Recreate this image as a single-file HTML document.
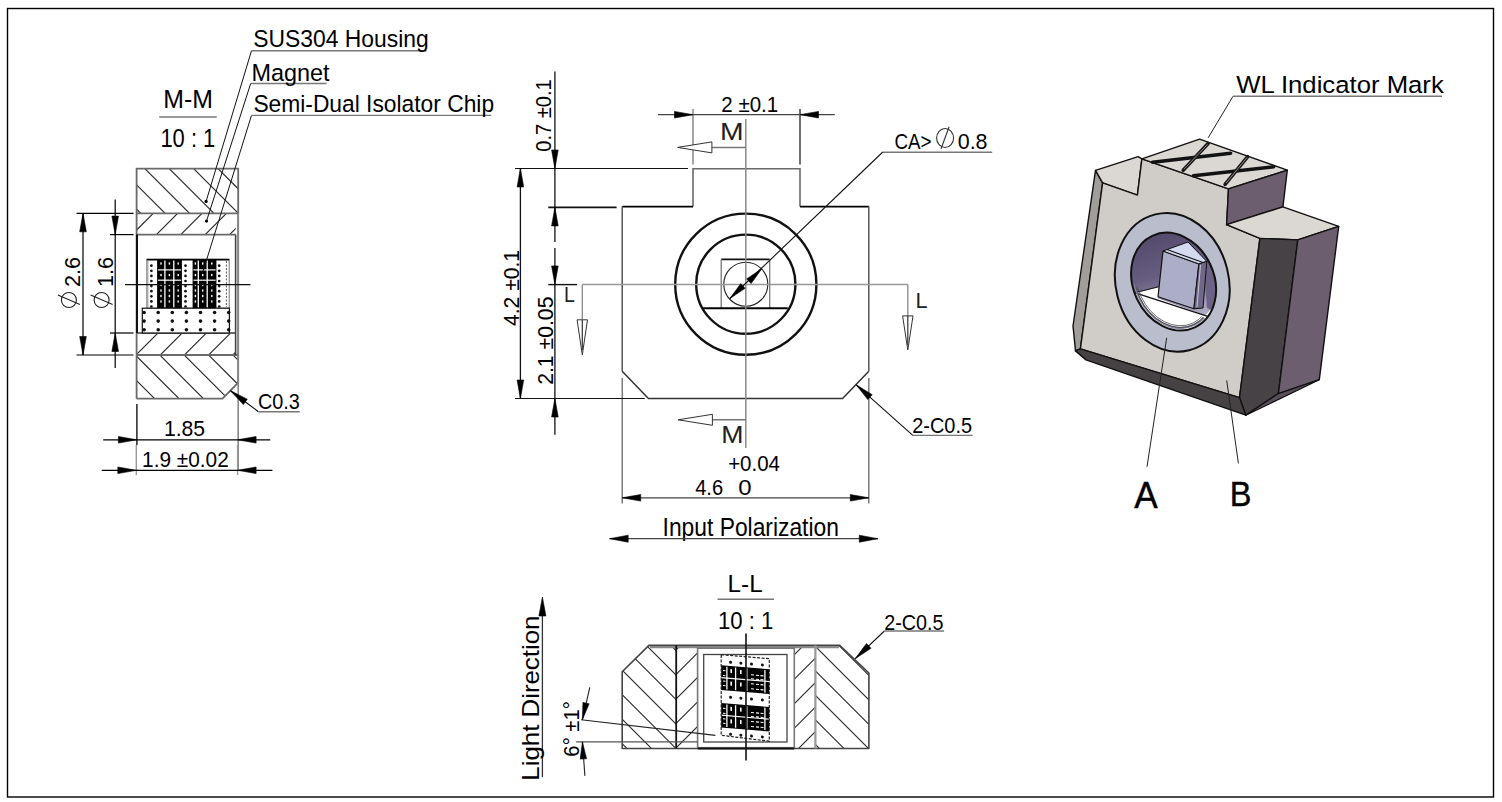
<!DOCTYPE html>
<html><head><meta charset="utf-8"><title>Isolator drawing</title>
<style>html,body{margin:0;padding:0;background:#fff;width:1502px;height:802px;overflow:hidden}svg{display:block}text{font-family:"Liberation Sans",sans-serif}</style>
</head><body>
<svg width="1502" height="802" viewBox="0 0 1502 802" font-family="Liberation Sans, sans-serif"><defs><clipPath id="mmH1"><rect x="136.6" y="168.7" width="101.6" height="44.60000000000002"/></clipPath><clipPath id="mmM1"><rect x="136.6" y="213.3" width="99.1" height="21.299999999999983"/></clipPath><clipPath id="mmM2"><rect x="136.6" y="333.0" width="99.1" height="22.0"/></clipPath><clipPath id="mmH2"><polygon points="136.6,355.0 238.2,355.0 238.2,382.7 222.5,398.7 136.6,398.7"/></clipPath><clipPath id="bore"><ellipse cx="1173.6" cy="281.6" rx="40.5" ry="50.5" transform="rotate(-25 1173.6 281.6)"/></clipPath><linearGradient id="wall" x1="0" y1="0" x2="0.3" y2="1"><stop offset="0" stop-color="#4b4163"/><stop offset="0.5" stop-color="#675d80"/><stop offset="0.8" stop-color="#9d97b5"/><stop offset="1" stop-color="#c0bcd2"/></linearGradient><clipPath id="lip"><polygon points="1120,270 1140,290 1205,318 1215,340 1120,340"/></clipPath><clipPath id="llH1"><polygon points="648.9,645.4 676.2,645.4 676.2,748.5 622.2,748.5 622.2,671.8"/></clipPath><clipPath id="llM1"><rect x="676.2" y="645.4" width="21.4" height="103.10000000000002"/></clipPath><clipPath id="llM2"><rect x="794.3" y="645.4" width="21.1" height="103.10000000000002"/></clipPath><clipPath id="llH2"><polygon points="815.4,645.4 839.7,645.4 868.9,673.0 868.9,748.5 815.4,748.5"/></clipPath><clipPath id="llchip"><polygon points="721.2,654.7 769.3,658.7 769.3,741.2 721.2,735.3"/></clipPath></defs><rect x="0" y="0" width="1502" height="802" fill="#fff"/>
<rect x="7.5" y="8.5" width="1486" height="788.5" fill="none" stroke="#000" stroke-width="1.4"/>
<g clip-path="url(#mmH1)">
<line x1="-1000.0" y1="-927.4" x2="2000.0" y2="2072.6" stroke="#222" stroke-width="1.1" />
<line x1="-1000.0" y1="-951.8" x2="2000.0" y2="2048.2" stroke="#222" stroke-width="1.1" />
<line x1="-1000.0" y1="-976.2" x2="2000.0" y2="2023.8" stroke="#222" stroke-width="1.1" />
<line x1="-1000.0" y1="-1000.6" x2="2000.0" y2="1999.4" stroke="#222" stroke-width="1.1" />
<line x1="-1000.0" y1="-1025.0" x2="2000.0" y2="1975.0" stroke="#222" stroke-width="1.1" />
<line x1="-1000.0" y1="-1049.4" x2="2000.0" y2="1950.6" stroke="#222" stroke-width="1.1" />
</g>
<g clip-path="url(#mmM1)">
<line x1="-1000.0" y1="1366.6" x2="2000.0" y2="-1633.4" stroke="#222" stroke-width="1.1" />
<line x1="-1000.0" y1="1391.0" x2="2000.0" y2="-1609.0" stroke="#222" stroke-width="1.1" />
<line x1="-1000.0" y1="1415.4" x2="2000.0" y2="-1584.6" stroke="#222" stroke-width="1.1" />
<line x1="-1000.0" y1="1439.8" x2="2000.0" y2="-1560.2" stroke="#222" stroke-width="1.1" />
<line x1="-1000.0" y1="1464.2" x2="2000.0" y2="-1535.8" stroke="#222" stroke-width="1.1" />
<line x1="-1000.0" y1="1488.6" x2="2000.0" y2="-1511.4" stroke="#222" stroke-width="1.1" />
</g>
<g clip-path="url(#mmM2)">
<line x1="-1000.0" y1="1491.0" x2="2000.0" y2="-1509.0" stroke="#222" stroke-width="1.1" />
<line x1="-1000.0" y1="1515.2" x2="2000.0" y2="-1484.8" stroke="#222" stroke-width="1.1" />
<line x1="-1000.0" y1="1539.4" x2="2000.0" y2="-1460.6" stroke="#222" stroke-width="1.1" />
<line x1="-1000.0" y1="1563.6" x2="2000.0" y2="-1436.4" stroke="#222" stroke-width="1.1" />
<line x1="-1000.0" y1="1587.8" x2="2000.0" y2="-1412.2" stroke="#222" stroke-width="1.1" />
</g>
<g clip-path="url(#mmH2)">
<line x1="-1000.0" y1="-756.0" x2="2000.0" y2="2244.0" stroke="#222" stroke-width="1.1" />
<line x1="-1000.0" y1="-780.4" x2="2000.0" y2="2219.6" stroke="#222" stroke-width="1.1" />
<line x1="-1000.0" y1="-804.8" x2="2000.0" y2="2195.2" stroke="#222" stroke-width="1.1" />
<line x1="-1000.0" y1="-829.2" x2="2000.0" y2="2170.8" stroke="#222" stroke-width="1.1" />
<line x1="-1000.0" y1="-853.6" x2="2000.0" y2="2146.4" stroke="#222" stroke-width="1.1" />
<line x1="-1000.0" y1="-878.0" x2="2000.0" y2="2122.0" stroke="#222" stroke-width="1.1" />
</g>
<polyline points="136.6,398.7 136.6,168.7 238.2,168.7 238.2,382.7 222.5,398.7 136.6,398.7" fill="none" stroke="#6a6a6a" stroke-width="1.8" />
<line x1="136.6" y1="213.3" x2="238.2" y2="213.3" stroke="#6a6a6a" stroke-width="1.8" />
<line x1="136.6" y1="234.6" x2="235.7" y2="234.6" stroke="#6a6a6a" stroke-width="1.8" />
<line x1="136.6" y1="333.0" x2="235.7" y2="333.0" stroke="#6a6a6a" stroke-width="1.8" />
<line x1="136.6" y1="355.0" x2="238.2" y2="355.0" stroke="#6a6a6a" stroke-width="1.8" />
<line x1="137.0" y1="234.6" x2="137.0" y2="333.0" stroke="#111" stroke-width="2.0" />
<line x1="235.6" y1="234.6" x2="235.6" y2="355.0" stroke="#444" stroke-width="1.6" />
<line x1="238.2" y1="213.3" x2="238.2" y2="470.0" stroke="#888" stroke-width="1.6" />
<rect x="146.8" y="259.4" width="82.4" height="48.8" fill="#fff" stroke="#777" stroke-width="1.0"/>
<line x1="146.8" y1="259.6" x2="229.2" y2="259.6" stroke="#000" stroke-width="1.8" />
<rect x="157.1" y="259.4" width="24.8" height="48.8" fill="#000"/>
<line x1="164.9" y1="260.5" x2="164.9" y2="307.5" stroke="#fff" stroke-width="1.3" />
<line x1="173.8" y1="260.5" x2="173.8" y2="307.5" stroke="#fff" stroke-width="1.3" />
<line x1="157.9" y1="269.9" x2="181.1" y2="269.9" stroke="#fff" stroke-width="1.2" />
<line x1="157.9" y1="280.2" x2="181.1" y2="280.2" stroke="#fff" stroke-width="1.2" />
<rect x="160.3" y="262.4" width="1.4" height="2.2" fill="#fff"/>
<rect x="160.3" y="273.9" width="1.4" height="2.2" fill="#fff"/>
<rect x="160.3" y="283.9" width="1.4" height="2.2" fill="#fff"/>
<rect x="160.3" y="289.4" width="1.4" height="2.2" fill="#fff"/>
<rect x="160.3" y="294.9" width="1.4" height="2.2" fill="#fff"/>
<rect x="160.3" y="300.4" width="1.4" height="2.2" fill="#fff"/>
<rect x="168.7" y="262.4" width="1.4" height="2.2" fill="#fff"/>
<rect x="168.7" y="273.9" width="1.4" height="2.2" fill="#fff"/>
<rect x="168.7" y="283.9" width="1.4" height="2.2" fill="#fff"/>
<rect x="168.7" y="289.4" width="1.4" height="2.2" fill="#fff"/>
<rect x="168.7" y="294.9" width="1.4" height="2.2" fill="#fff"/>
<rect x="168.7" y="300.4" width="1.4" height="2.2" fill="#fff"/>
<rect x="177.5" y="262.4" width="1.4" height="2.2" fill="#fff"/>
<rect x="177.5" y="273.9" width="1.4" height="2.2" fill="#fff"/>
<rect x="177.5" y="283.9" width="1.4" height="2.2" fill="#fff"/>
<rect x="177.5" y="289.4" width="1.4" height="2.2" fill="#fff"/>
<rect x="177.5" y="294.9" width="1.4" height="2.2" fill="#fff"/>
<rect x="177.5" y="300.4" width="1.4" height="2.2" fill="#fff"/>
<rect x="192.6" y="259.4" width="23.8" height="48.8" fill="#000"/>
<line x1="198.3" y1="260.5" x2="198.3" y2="307.5" stroke="#fff" stroke-width="1.3" />
<line x1="207.2" y1="260.5" x2="207.2" y2="307.5" stroke="#fff" stroke-width="1.3" />
<line x1="193.4" y1="269.9" x2="215.6" y2="269.9" stroke="#fff" stroke-width="1.2" />
<line x1="193.4" y1="280.2" x2="215.6" y2="280.2" stroke="#fff" stroke-width="1.2" />
<rect x="194.7" y="262.4" width="1.4" height="2.2" fill="#fff"/>
<rect x="194.7" y="273.9" width="1.4" height="2.2" fill="#fff"/>
<rect x="194.7" y="283.9" width="1.4" height="2.2" fill="#fff"/>
<rect x="194.7" y="289.4" width="1.4" height="2.2" fill="#fff"/>
<rect x="194.7" y="294.9" width="1.4" height="2.2" fill="#fff"/>
<rect x="194.7" y="300.4" width="1.4" height="2.2" fill="#fff"/>
<rect x="202.0" y="262.4" width="1.4" height="2.2" fill="#fff"/>
<rect x="202.0" y="273.9" width="1.4" height="2.2" fill="#fff"/>
<rect x="202.0" y="283.9" width="1.4" height="2.2" fill="#fff"/>
<rect x="202.0" y="289.4" width="1.4" height="2.2" fill="#fff"/>
<rect x="202.0" y="294.9" width="1.4" height="2.2" fill="#fff"/>
<rect x="202.0" y="300.4" width="1.4" height="2.2" fill="#fff"/>
<rect x="211.1" y="262.4" width="1.4" height="2.2" fill="#fff"/>
<rect x="211.1" y="273.9" width="1.4" height="2.2" fill="#fff"/>
<rect x="211.1" y="283.9" width="1.4" height="2.2" fill="#fff"/>
<rect x="211.1" y="289.4" width="1.4" height="2.2" fill="#fff"/>
<rect x="211.1" y="294.9" width="1.4" height="2.2" fill="#fff"/>
<rect x="211.1" y="300.4" width="1.4" height="2.2" fill="#fff"/>
<circle cx="151.4" cy="265.7" r="1.35" fill="#111"/>
<circle cx="151.4" cy="270.8" r="1.35" fill="#111"/>
<circle cx="151.4" cy="275.9" r="1.35" fill="#111"/>
<circle cx="151.4" cy="281.0" r="1.35" fill="#111"/>
<circle cx="151.4" cy="286.1" r="1.35" fill="#111"/>
<circle cx="151.4" cy="291.2" r="1.35" fill="#111"/>
<circle cx="151.4" cy="296.3" r="1.35" fill="#111"/>
<circle cx="151.4" cy="301.4" r="1.35" fill="#111"/>
<circle cx="151.4" cy="306.5" r="1.35" fill="#111"/>
<circle cx="185.5" cy="265.7" r="1.35" fill="#111"/>
<circle cx="185.5" cy="270.8" r="1.35" fill="#111"/>
<circle cx="185.5" cy="275.9" r="1.35" fill="#111"/>
<circle cx="185.5" cy="281.0" r="1.35" fill="#111"/>
<circle cx="185.5" cy="286.1" r="1.35" fill="#111"/>
<circle cx="185.5" cy="291.2" r="1.35" fill="#111"/>
<circle cx="185.5" cy="296.3" r="1.35" fill="#111"/>
<circle cx="185.5" cy="301.4" r="1.35" fill="#111"/>
<circle cx="185.5" cy="306.5" r="1.35" fill="#111"/>
<circle cx="219.2" cy="265.7" r="1.35" fill="#111"/>
<circle cx="219.2" cy="270.8" r="1.35" fill="#111"/>
<circle cx="219.2" cy="275.9" r="1.35" fill="#111"/>
<circle cx="219.2" cy="281.0" r="1.35" fill="#111"/>
<circle cx="219.2" cy="286.1" r="1.35" fill="#111"/>
<circle cx="219.2" cy="291.2" r="1.35" fill="#111"/>
<circle cx="219.2" cy="296.3" r="1.35" fill="#111"/>
<circle cx="219.2" cy="301.4" r="1.35" fill="#111"/>
<circle cx="219.2" cy="306.5" r="1.35" fill="#111"/>
<line x1="226.4" y1="261.0" x2="226.4" y2="307.0" stroke="#555" stroke-width="1.0" stroke-dasharray="2,1.5"/>
<line x1="147.6" y1="261.0" x2="147.6" y2="307.0" stroke="#aaa" stroke-width="1.6" />
<rect x="142.3" y="308.2" width="87.1" height="24.8" fill="#fff" stroke="#111" stroke-width="1.2"/>
<circle cx="144.1" cy="312.5" r="1.8" fill="#111"/>
<circle cx="158.2" cy="312.5" r="1.8" fill="#111"/>
<circle cx="172.3" cy="312.5" r="1.8" fill="#111"/>
<circle cx="186.4" cy="312.5" r="1.8" fill="#111"/>
<circle cx="200.5" cy="312.5" r="1.8" fill="#111"/>
<circle cx="214.6" cy="312.5" r="1.8" fill="#111"/>
<circle cx="228.7" cy="312.5" r="1.8" fill="#111"/>
<circle cx="144.1" cy="321.1" r="1.8" fill="#111"/>
<circle cx="158.2" cy="321.1" r="1.8" fill="#111"/>
<circle cx="172.3" cy="321.1" r="1.8" fill="#111"/>
<circle cx="186.4" cy="321.1" r="1.8" fill="#111"/>
<circle cx="200.5" cy="321.1" r="1.8" fill="#111"/>
<circle cx="214.6" cy="321.1" r="1.8" fill="#111"/>
<circle cx="228.7" cy="321.1" r="1.8" fill="#111"/>
<circle cx="144.1" cy="329.7" r="1.8" fill="#111"/>
<circle cx="158.2" cy="329.7" r="1.8" fill="#111"/>
<circle cx="172.3" cy="329.7" r="1.8" fill="#111"/>
<circle cx="186.4" cy="329.7" r="1.8" fill="#111"/>
<circle cx="200.5" cy="329.7" r="1.8" fill="#111"/>
<circle cx="214.6" cy="329.7" r="1.8" fill="#111"/>
<circle cx="228.7" cy="329.7" r="1.8" fill="#111"/>
<line x1="125.0" y1="284.7" x2="250.4" y2="284.7" stroke="#111" stroke-width="1.2" />
<line x1="251.5" y1="50.7" x2="206.1" y2="201.4" stroke="#111" stroke-width="1.0" />
<circle cx="206.1" cy="201.4" r="1.6" fill="#000"/>
<line x1="250.7" y1="83.5" x2="206.5" y2="221.1" stroke="#111" stroke-width="1.0" />
<circle cx="206.5" cy="221.1" r="1.6" fill="#000"/>
<line x1="251.5" y1="115.4" x2="202.5" y2="273.0" stroke="#111" stroke-width="1.0" />
<line x1="251.5" y1="50.7" x2="426.4" y2="50.7" stroke="#777" stroke-width="1.4" />
<line x1="250.7" y1="83.5" x2="326.5" y2="83.5" stroke="#777" stroke-width="1.4" />
<line x1="251.5" y1="115.4" x2="491.2" y2="115.4" stroke="#777" stroke-width="1.4" />
<text x="253.18" y="46.60" font-size="24.5" text-anchor="start" fill="#000" textLength="175.53" lengthAdjust="spacingAndGlyphs" >SUS304 Housing</text>
<text x="251.53" y="80.50" font-size="24.5" text-anchor="start" fill="#000" textLength="78.09" lengthAdjust="spacingAndGlyphs" >Magnet</text>
<text x="253.39" y="111.70" font-size="24.5" text-anchor="start" fill="#000" textLength="240.71" lengthAdjust="spacingAndGlyphs" >Semi-Dual Isolator Chip</text>
<text x="163.23" y="108.40" font-size="25" text-anchor="start" fill="#000" textLength="49.64" lengthAdjust="spacingAndGlyphs" >M-M</text>
<line x1="159.2" y1="117.0" x2="216.7" y2="117.0" stroke="#777" stroke-width="1.4" />
<text x="160.39" y="146.80" font-size="25" text-anchor="start" fill="#000" textLength="54.92" lengthAdjust="spacingAndGlyphs" >10 : 1</text>
<line x1="76.5" y1="213.3" x2="133.5" y2="213.3" stroke="#000" stroke-width="1.2" />
<line x1="76.5" y1="355.0" x2="133.5" y2="355.0" stroke="#000" stroke-width="1.2" />
<line x1="110.0" y1="234.6" x2="133.5" y2="234.6" stroke="#000" stroke-width="1.2" />
<line x1="110.0" y1="333.0" x2="133.5" y2="333.0" stroke="#000" stroke-width="1.2" />
<line x1="83.0" y1="213.3" x2="83.0" y2="355.0" stroke="#000" stroke-width="1.2" />
<polygon points="83.0,213.3 86.3,231.8 79.7,231.8" fill="#000" stroke="#000" stroke-width="0.6" stroke-linejoin="round" />
<polygon points="83.0,355.0 79.7,336.5 86.3,336.5" fill="#000" stroke="#000" stroke-width="0.6" stroke-linejoin="round" />
<line x1="115.2" y1="199.6" x2="115.2" y2="368.0" stroke="#000" stroke-width="1.2" />
<polygon points="115.2,234.6 111.9,216.1 118.5,216.1" fill="#000" stroke="#000" stroke-width="0.6" stroke-linejoin="round" />
<polygon points="115.2,333.0 118.5,351.5 111.9,351.5" fill="#000" stroke="#000" stroke-width="0.6" stroke-linejoin="round" />
<circle cx="68.9" cy="300" r="7.5" fill="none" stroke="#222" stroke-width="1.1"/>
<line x1="57.9" y1="295.0" x2="79.9" y2="304.5" stroke="#222" stroke-width="1.1" />
<circle cx="101.6" cy="300" r="7.5" fill="none" stroke="#222" stroke-width="1.1"/>
<line x1="90.6" y1="295.0" x2="112.6" y2="304.5" stroke="#222" stroke-width="1.1" />
<text x="79.90" y="287.08" font-size="22" text-anchor="start" fill="#000" textLength="30.15" lengthAdjust="spacingAndGlyphs" transform="rotate(-90 79.90 287.08)" >2.6</text>
<text x="113.00" y="287.11" font-size="22" text-anchor="start" fill="#000" textLength="30.19" lengthAdjust="spacingAndGlyphs" transform="rotate(-90 113.00 287.11)" >1.6</text>
<line x1="136.9" y1="404.0" x2="136.9" y2="445.0" stroke="#111" stroke-width="1.4" />
<line x1="136.3" y1="445.0" x2="136.3" y2="475.0" stroke="#999" stroke-width="1.4" />
<line x1="237.6" y1="445.0" x2="237.6" y2="475.0" stroke="#999" stroke-width="1.4" />
<line x1="103.2" y1="439.8" x2="270.2" y2="439.8" stroke="#000" stroke-width="1.2" />
<polygon points="136.9,439.8 118.4,443.1 118.4,436.5" fill="#000" stroke="#000" stroke-width="0.6" stroke-linejoin="round" />
<polygon points="237.6,439.8 256.1,436.5 256.1,443.1" fill="#000" stroke="#000" stroke-width="0.6" stroke-linejoin="round" />
<line x1="101.7" y1="470.3" x2="272.4" y2="470.3" stroke="#000" stroke-width="1.2" />
<polygon points="136.3,470.3 117.8,473.6 117.8,467.0" fill="#000" stroke="#000" stroke-width="0.6" stroke-linejoin="round" />
<polygon points="237.6,470.3 256.1,467.0 256.1,473.6" fill="#000" stroke="#000" stroke-width="0.6" stroke-linejoin="round" />
<text x="163.89" y="435.80" font-size="22" text-anchor="start" fill="#000" textLength="41.20" lengthAdjust="spacingAndGlyphs" >1.85</text>
<text x="142.05" y="467.40" font-size="22" text-anchor="start" fill="#000" textLength="86.68" lengthAdjust="spacingAndGlyphs" >1.9 ±0.02</text>
<line x1="230.5" y1="390.7" x2="258.4" y2="411.7" stroke="#000" stroke-width="1.1" />
<polygon points="230.5,390.7 247.3,399.2 243.3,404.5" fill="#000" stroke="#000" stroke-width="0.6" stroke-linejoin="round" />
<line x1="258.4" y1="411.7" x2="299.8" y2="411.7" stroke="#777" stroke-width="1.4" />
<text x="257.94" y="409.20" font-size="22" text-anchor="start" fill="#000" textLength="41.90" lengthAdjust="spacingAndGlyphs" >C0.3</text>
<polyline points="693.0,206.6 693.0,168.7 800.0,168.7 800.0,206.6" fill="none" stroke="#6a6a6a" stroke-width="1.6" />
<line x1="622.2" y1="206.6" x2="693.0" y2="206.6" stroke="#000" stroke-width="1.7" />
<line x1="800.0" y1="206.6" x2="868.8" y2="206.6" stroke="#000" stroke-width="1.7" />
<line x1="622.2" y1="206.6" x2="622.2" y2="371.2" stroke="#555" stroke-width="1.5" />
<line x1="868.8" y1="206.6" x2="868.8" y2="371.2" stroke="#555" stroke-width="1.5" />
<polyline points="622.2,371.2 648.4,398.4 842.6,398.4 868.8,371.2" fill="none" stroke="#333" stroke-width="1.5" />
<line x1="622.2" y1="378.0" x2="622.2" y2="503.6" stroke="#666" stroke-width="1.3" />
<line x1="868.8" y1="378.0" x2="868.8" y2="503.6" stroke="#666" stroke-width="1.3" />
<line x1="693.0" y1="109.0" x2="693.0" y2="164.4" stroke="#777" stroke-width="1.3" />
<line x1="800.0" y1="109.0" x2="800.0" y2="164.4" stroke="#222" stroke-width="1.3" />
<line x1="515.0" y1="168.5" x2="688.0" y2="168.5" stroke="#111" stroke-width="1.2" />
<line x1="548.3" y1="207.4" x2="616.6" y2="207.4" stroke="#111" stroke-width="1.6" />
<line x1="515.0" y1="398.5" x2="644.8" y2="398.5" stroke="#111" stroke-width="1.2" />
<line x1="548.3" y1="284.6" x2="577.1" y2="284.6" stroke="#111" stroke-width="1.4" />
<circle cx="745.8" cy="284.2" r="70.6" fill="none" stroke="#111" stroke-width="2.4"/>
<circle cx="745.8" cy="284.2" r="49.6" fill="none" stroke="#111" stroke-width="2.4"/>
<circle cx="745.8" cy="284.2" r="22" fill="none" stroke="#222" stroke-width="1.1"/>
<line x1="721.2" y1="259.4" x2="769.7" y2="259.4" stroke="#111" stroke-width="1.6" />
<line x1="721.2" y1="259.4" x2="721.2" y2="308.0" stroke="#777" stroke-width="1.3" />
<line x1="769.7" y1="259.4" x2="769.7" y2="308.0" stroke="#777" stroke-width="1.3" />
<line x1="702.9" y1="308.2" x2="787.7" y2="308.2" stroke="#000" stroke-width="2.0" />
<line x1="745.8" y1="119.0" x2="745.8" y2="448.0" stroke="#888" stroke-width="1.5" />
<line x1="582.3" y1="284.4" x2="907.8" y2="284.4" stroke="#999" stroke-width="1.5" />
<line x1="582.3" y1="284.4" x2="582.3" y2="326.0" stroke="#888" stroke-width="1.3" />
<line x1="907.8" y1="284.4" x2="907.8" y2="322.0" stroke="#888" stroke-width="1.3" />
<polygon points="582.3,354.8 577.1,319.8 587.5,319.8" fill="#fff" stroke="#333" stroke-width="1" stroke-linejoin="round" />
<line x1="582.3" y1="320.0" x2="582.3" y2="350.0" stroke="#333" stroke-width="1.2" />
<polygon points="907.8,349.9 902.6,315.9 913.0,315.9" fill="#fff" stroke="#333" stroke-width="1" stroke-linejoin="round" />
<line x1="907.8" y1="316.0" x2="907.8" y2="345.0" stroke="#333" stroke-width="1.2" />
<text x="564.01" y="302.00" font-size="22" text-anchor="start" fill="#222" textLength="10.82" lengthAdjust="spacingAndGlyphs" >L</text>
<text x="915.48" y="307.60" font-size="22" text-anchor="start" fill="#222" textLength="12.02" lengthAdjust="spacingAndGlyphs" >L</text>
<line x1="745.8" y1="147.4" x2="680.0" y2="147.4" stroke="#777" stroke-width="1.5" />
<polygon points="677.6,147.4 711.9,141.9 711.9,152.9" fill="#fff" stroke="#333" stroke-width="1" stroke-linejoin="round" />
<line x1="745.8" y1="419.8" x2="680.0" y2="419.8" stroke="#777" stroke-width="1.5" />
<polygon points="678.1,419.8 712.4,414.3 712.4,425.3" fill="#fff" stroke="#333" stroke-width="1" stroke-linejoin="round" />
<text x="720.07" y="139.50" font-size="24" text-anchor="start" fill="#222" textLength="23.59" lengthAdjust="spacingAndGlyphs" >M</text>
<text x="721.30" y="442.70" font-size="24" text-anchor="start" fill="#222" textLength="22.20" lengthAdjust="spacingAndGlyphs" >M</text>
<line x1="729.9" y1="298.5" x2="882.8" y2="152.0" stroke="#111" stroke-width="1.1" />
<polygon points="729.9,298.5 740.7,283.7 745.1,288.3" fill="#000" stroke="#000" stroke-width="0.6" stroke-linejoin="round" />
<polygon points="761.8,268.7 751.1,283.5 746.6,278.9" fill="#000" stroke="#000" stroke-width="0.6" stroke-linejoin="round" />
<line x1="882.8" y1="152.2" x2="992.2" y2="152.2" stroke="#777" stroke-width="1.4" />
<text x="894.39" y="149.40" font-size="22" text-anchor="start" fill="#000" textLength="37.07" lengthAdjust="spacingAndGlyphs" >CA&gt;</text>
<ellipse cx="945.1" cy="138" rx="8.5" ry="9.5" fill="none" stroke="#333" stroke-width="1.1"/>
<line x1="949.1" y1="126.8" x2="941.1" y2="148.8" stroke="#333" stroke-width="1.1" />
<text x="957.76" y="149.40" font-size="22" text-anchor="start" fill="#000" textLength="29.79" lengthAdjust="spacingAndGlyphs" >0.8</text>
<line x1="658.1" y1="114.7" x2="834.8" y2="114.7" stroke="#444" stroke-width="1.3" />
<polygon points="693.0,114.7 674.5,118.0 674.5,111.4" fill="#000" stroke="#000" stroke-width="0.6" stroke-linejoin="round" />
<polygon points="800.0,114.7 818.5,111.4 818.5,118.0" fill="#000" stroke="#000" stroke-width="0.6" stroke-linejoin="round" />
<text x="721.37" y="111.90" font-size="22" text-anchor="start" fill="#000" textLength="56.84" lengthAdjust="spacingAndGlyphs" >2 ±0.1</text>
<line x1="554.9" y1="71.4" x2="554.9" y2="242.1" stroke="#111" stroke-width="1.3" />
<line x1="554.9" y1="248.0" x2="554.9" y2="434.7" stroke="#111" stroke-width="1.3" />
<polygon points="554.9,168.5 551.6,150.0 558.2,150.0" fill="#000" stroke="#000" stroke-width="0.6" stroke-linejoin="round" />
<polygon points="554.9,207.4 558.2,225.9 551.6,225.9" fill="#000" stroke="#000" stroke-width="0.6" stroke-linejoin="round" />
<polygon points="554.9,284.4 551.6,265.9 558.2,265.9" fill="#000" stroke="#000" stroke-width="0.6" stroke-linejoin="round" />
<polygon points="554.9,398.5 558.2,417.0 551.6,417.0" fill="#000" stroke="#000" stroke-width="0.6" stroke-linejoin="round" />
<line x1="520.4" y1="168.5" x2="520.4" y2="398.5" stroke="#111" stroke-width="1.3" />
<polygon points="520.4,168.5 523.7,187.0 517.1,187.0" fill="#000" stroke="#000" stroke-width="0.6" stroke-linejoin="round" />
<polygon points="520.4,398.5 517.1,380.0 523.7,380.0" fill="#000" stroke="#000" stroke-width="0.6" stroke-linejoin="round" />
<text x="551.40" y="151.81" font-size="22" text-anchor="start" fill="#000" textLength="72.62" lengthAdjust="spacingAndGlyphs" transform="rotate(-90 551.40 151.81)" >0.7 ±0.1</text>
<text x="518.80" y="326.00" font-size="22" text-anchor="start" fill="#000" textLength="76.01" lengthAdjust="spacingAndGlyphs" transform="rotate(-90 518.80 326.00)" >4.2 ±0.1</text>
<text x="552.90" y="384.83" font-size="22" text-anchor="start" fill="#000" textLength="88.26" lengthAdjust="spacingAndGlyphs" transform="rotate(-90 552.90 384.83)" >2.1 ±0.05</text>
<line x1="622.2" y1="497.8" x2="868.8" y2="497.8" stroke="#444" stroke-width="1.3" />
<polygon points="622.2,497.8 640.7,494.5 640.7,501.1" fill="#000" stroke="#000" stroke-width="0.6" stroke-linejoin="round" />
<polygon points="868.8,497.8 850.3,501.1 850.3,494.5" fill="#000" stroke="#000" stroke-width="0.6" stroke-linejoin="round" />
<text x="695.16" y="495.30" font-size="22" text-anchor="start" fill="#000" textLength="27.89" lengthAdjust="spacingAndGlyphs" >4.6</text>
<text x="738.33" y="495.30" font-size="22" text-anchor="start" fill="#000" textLength="13.35" lengthAdjust="spacingAndGlyphs" >0</text>
<text x="728.16" y="471.30" font-size="22" text-anchor="start" fill="#000" textLength="51.86" lengthAdjust="spacingAndGlyphs" >+0.04</text>
<line x1="856.2" y1="384.8" x2="912.8" y2="435.4" stroke="#111" stroke-width="1.1" />
<polygon points="856.2,384.8 872.2,394.7 867.8,399.6" fill="#000" stroke="#000" stroke-width="0.6" stroke-linejoin="round" />
<line x1="912.8" y1="435.4" x2="972.7" y2="435.4" stroke="#777" stroke-width="1.4" />
<text x="912.16" y="433.00" font-size="22" text-anchor="start" fill="#000" textLength="59.87" lengthAdjust="spacingAndGlyphs" >2-C0.5</text>
<text x="662.57" y="535.70" font-size="25" text-anchor="start" fill="#000" textLength="176.36" lengthAdjust="spacingAndGlyphs" >Input Polarization</text>
<line x1="609.6" y1="538.7" x2="877.9" y2="538.7" stroke="#444" stroke-width="1.3" />
<polygon points="609.6,538.7 628.2,535.2 628.2,542.2" fill="#000" stroke="#000" stroke-width="0.6" stroke-linejoin="round" />
<polygon points="877.9,538.7 859.3,542.2 859.3,535.2" fill="#000" stroke="#000" stroke-width="0.6" stroke-linejoin="round" />
<polygon points="1095.5,170.4 1102.6,182.8 1080.4,348.9 1075.5,350.9 1073.0,326.0" fill="#a19d99" stroke="#111" stroke-width="1.4" stroke-linejoin="round" />
<polygon points="1095.5,170.4 1138.1,156.6 1141.9,158.8 1137.4,195.1 1102.6,182.8" fill="#dbd7d3" stroke="#111" stroke-width="1.4" stroke-linejoin="round" />
<polygon points="1102.6,182.8 1137.4,195.1 1141.9,158.8 1228.5,188.9 1226.6,224.7 1259.9,238.4 1239.5,397.6 1080.4,348.9" fill="#d0cdc9" stroke="#111" stroke-width="1.4" stroke-linejoin="round" />
<polygon points="1141.9,158.8 1199.6,139.1 1287.3,170.2 1228.5,188.9" fill="#dbd7d3" stroke="#111" stroke-width="1.4" stroke-linejoin="round" />
<polygon points="1228.5,188.9 1287.3,170.2 1282.9,206.9 1226.6,224.7" fill="#6c5e6e" stroke="#111" stroke-width="1.4" stroke-linejoin="round" />
<polygon points="1226.6,224.7 1282.9,206.9 1338.7,226.4 1297.8,239.9 1259.9,238.4" fill="#dbd7d3" stroke="#111" stroke-width="1.4" stroke-linejoin="round" />
<polygon points="1259.9,238.4 1297.8,239.9 1278.4,393.6 1245.8,415.2 1239.5,397.6" fill="#474245" stroke="#111" stroke-width="1.4" stroke-linejoin="round" />
<polygon points="1297.8,239.9 1338.7,226.4 1319.3,379.7 1278.4,393.6" fill="#6c5e6e" stroke="#111" stroke-width="1.4" stroke-linejoin="round" />
<polygon points="1278.4,393.6 1319.3,379.7 1245.8,415.2" fill="#5b4f5c" stroke="#111" stroke-width="1.2" stroke-linejoin="round" />
<polygon points="1075.5,350.9 1080.4,348.9 1239.5,397.6 1245.8,415.2 1086.0,359.9" fill="#464244" stroke="#111" stroke-width="1.4" stroke-linejoin="round" />
<line x1="1152.6" y1="162.3" x2="1230.7" y2="153.2" stroke="#121212" stroke-width="3.4" stroke-linecap="round"/>
<line x1="1193.4" y1="175.8" x2="1273.7" y2="166.8" stroke="#121212" stroke-width="3.4" stroke-linecap="round"/>
<line x1="1183.2" y1="170.2" x2="1208.1" y2="143.6" stroke="#1a1a1a" stroke-width="3.6" stroke-linecap="round"/>
<line x1="1184.2" y1="169.0" x2="1207.5" y2="144.4" stroke="#8a8784" stroke-width="1.0" />
<line x1="1225.1" y1="184.3" x2="1247.7" y2="156.6" stroke="#1a1a1a" stroke-width="3.6" stroke-linecap="round"/>
<line x1="1226.1" y1="183.1" x2="1247.1" y2="157.4" stroke="#8a8784" stroke-width="1.0" />
<ellipse cx="1172.25" cy="282.3" rx="56.5" ry="70" transform="rotate(-14 1172.25 282.3)" fill="#b9bdcc" stroke="#111" stroke-width="2"/>
<g clip-path="url(#bore)">
<rect x="1120" y="225" width="110" height="115" fill="url(#wall)"/>
<polygon points="1203.0,258.0 1230.0,245.0 1230.0,320.0 1207.0,308.0" fill="#6b6286" stroke="none" stroke-width="1" stroke-linejoin="round" />
<polygon points="1120.0,295.0 1140.1,291.7 1158.7,286.7 1158.0,298.2 1205.3,315.4 1212.0,308.0 1230.0,300.0 1230.0,340.0 1120.0,340.0" fill="#fff" stroke="none" stroke-width="1" stroke-linejoin="round" />
<line x1="1128.0" y1="294.5" x2="1158.7" y2="286.7" stroke="#111" stroke-width="1.1" />
<line x1="1136.0" y1="293.2" x2="1210.0" y2="317.2" stroke="#111" stroke-width="1.3" />
<polygon points="1163.0,251.0 1198.9,263.9 1193.9,308.8 1158.0,296.8" fill="#abaec6" stroke="#111" stroke-width="1.2" stroke-linejoin="round" />
<polygon points="1163.0,251.0 1188.0,242.0 1206.8,261.4 1198.9,263.9" fill="#d4daf0" stroke="#111" stroke-width="1.0" stroke-linejoin="round" />
<line x1="1167.0" y1="249.5" x2="1203.0" y2="262.6" stroke="#111" stroke-width="1.1" />
<polygon points="1198.9,263.9 1206.8,261.4 1203.0,308.0 1193.9,308.8" fill="#706888" stroke="#111" stroke-width="1.0" stroke-linejoin="round" />
<line x1="1200.5" y1="265.0" x2="1197.0" y2="307.0" stroke="#d0d0e0" stroke-width="0.9" />
</g>
<g clip-path="url(#lip)">
<ellipse cx="1173.6" cy="281.6" rx="38" ry="48" transform="rotate(-25 1173.6 281.6)" fill="none" stroke="#8a8aa0" stroke-width="2.2"/>
<ellipse cx="1173.6" cy="281.6" rx="37.5" ry="47.5" transform="rotate(-25 1173.6 281.6)" fill="none" stroke="#333" stroke-width="0.7"/>
<ellipse cx="1173.6" cy="281.6" rx="35.8" ry="45.8" transform="rotate(-25 1173.6 281.6)" fill="none" stroke="#444" stroke-width="0.7"/>
</g>
<ellipse cx="1173.6" cy="281.6" rx="40.5" ry="50.5" transform="rotate(-25 1173.6 281.6)" fill="none" stroke="#111" stroke-width="2"/>
<line x1="1208.1" y1="137.9" x2="1233.0" y2="96.3" stroke="#222" stroke-width="1.0" />
<line x1="1233.0" y1="96.3" x2="1442.0" y2="96.3" stroke="#777" stroke-width="1.4" />
<text x="1236.20" y="93.20" font-size="24.5" text-anchor="start" fill="#000" textLength="207.60" lengthAdjust="spacingAndGlyphs" >WL Indicator Mark</text>
<line x1="1147.0" y1="466.8" x2="1166.7" y2="337.8" stroke="#222" stroke-width="1.0" />
<line x1="1238.4" y1="463.4" x2="1226.7" y2="380.4" stroke="#222" stroke-width="1.0" />
<text x="1134.34" y="508.10" font-size="36" text-anchor="start" fill="#000" textLength="23.48" lengthAdjust="spacingAndGlyphs" stroke="#000" stroke-width="0.4">A</text>
<text x="1229.84" y="506.10" font-size="34.5" text-anchor="start" fill="#000" textLength="21.67" lengthAdjust="spacingAndGlyphs" stroke="#000" stroke-width="0.4">B</text>
<g clip-path="url(#llH1)">
<line x1="-1000.0" y1="-854.0" x2="2000.0" y2="2146.0" stroke="#222" stroke-width="1.1" />
<line x1="-1000.0" y1="-878.5" x2="2000.0" y2="2121.5" stroke="#222" stroke-width="1.1" />
<line x1="-1000.0" y1="-903.0" x2="2000.0" y2="2097.0" stroke="#222" stroke-width="1.1" />
<line x1="-1000.0" y1="-927.5" x2="2000.0" y2="2072.5" stroke="#222" stroke-width="1.1" />
<line x1="-1000.0" y1="-952.0" x2="2000.0" y2="2048.0" stroke="#222" stroke-width="1.1" />
<line x1="-1000.0" y1="-976.5" x2="2000.0" y2="2023.5" stroke="#222" stroke-width="1.1" />
<line x1="-1000.0" y1="-1001.0" x2="2000.0" y2="1999.0" stroke="#222" stroke-width="1.1" />
<line x1="-1000.0" y1="-1025.5" x2="2000.0" y2="1974.5" stroke="#222" stroke-width="1.1" />
</g>
<g clip-path="url(#llM1)">
<line x1="-1000.0" y1="2326.0" x2="2000.0" y2="-674.0" stroke="#222" stroke-width="1.1" />
<line x1="-1000.0" y1="2350.5" x2="2000.0" y2="-649.5" stroke="#222" stroke-width="1.1" />
<line x1="-1000.0" y1="2375.0" x2="2000.0" y2="-625.0" stroke="#222" stroke-width="1.1" />
<line x1="-1000.0" y1="2399.5" x2="2000.0" y2="-600.5" stroke="#222" stroke-width="1.1" />
<line x1="-1000.0" y1="2424.0" x2="2000.0" y2="-576.0" stroke="#222" stroke-width="1.1" />
<line x1="-1000.0" y1="2448.5" x2="2000.0" y2="-551.5" stroke="#222" stroke-width="1.1" />
</g>
<g clip-path="url(#llM2)">
<line x1="-1000.0" y1="2424.5" x2="2000.0" y2="-575.5" stroke="#222" stroke-width="1.1" />
<line x1="-1000.0" y1="2449.0" x2="2000.0" y2="-551.0" stroke="#222" stroke-width="1.1" />
<line x1="-1000.0" y1="2473.5" x2="2000.0" y2="-526.5" stroke="#222" stroke-width="1.1" />
<line x1="-1000.0" y1="2498.0" x2="2000.0" y2="-502.0" stroke="#222" stroke-width="1.1" />
<line x1="-1000.0" y1="2522.5" x2="2000.0" y2="-477.5" stroke="#222" stroke-width="1.1" />
<line x1="-1000.0" y1="2547.0" x2="2000.0" y2="-453.0" stroke="#222" stroke-width="1.1" />
</g>
<g clip-path="url(#llH2)">
<line x1="-1000.0" y1="-1022.0" x2="2000.0" y2="1978.0" stroke="#222" stroke-width="1.1" />
<line x1="-1000.0" y1="-1046.5" x2="2000.0" y2="1953.5" stroke="#222" stroke-width="1.1" />
<line x1="-1000.0" y1="-1071.0" x2="2000.0" y2="1929.0" stroke="#222" stroke-width="1.1" />
<line x1="-1000.0" y1="-1095.5" x2="2000.0" y2="1904.5" stroke="#222" stroke-width="1.1" />
<line x1="-1000.0" y1="-1120.0" x2="2000.0" y2="1880.0" stroke="#222" stroke-width="1.1" />
<line x1="-1000.0" y1="-1144.5" x2="2000.0" y2="1855.5" stroke="#222" stroke-width="1.1" />
<line x1="-1000.0" y1="-1169.0" x2="2000.0" y2="1831.0" stroke="#222" stroke-width="1.1" />
<line x1="-1000.0" y1="-1193.5" x2="2000.0" y2="1806.5" stroke="#222" stroke-width="1.1" />
</g>
<polygon points="648.9,645.4 839.7,645.4 868.9,673.0 868.9,748.5 622.2,748.5 622.2,671.8" fill="none" stroke="#444" stroke-width="1.6" stroke-linejoin="round" />
<line x1="650.0" y1="647.2" x2="839.0" y2="647.2" stroke="#888" stroke-width="2.2" />
<line x1="676.2" y1="645.4" x2="676.2" y2="748.5" stroke="#111" stroke-width="1.8" />
<line x1="815.4" y1="645.4" x2="815.4" y2="748.5" stroke="#999" stroke-width="2.2" />
<rect x="697.6" y="648.2" width="96.7" height="99.5" fill="#fff" stroke="#777" stroke-width="1.6"/>
<rect x="703.7" y="654.5" width="83.3" height="87.5" fill="#fff" stroke="#444" stroke-width="1.3"/>
<line x1="697.6" y1="748.5" x2="794.3" y2="748.5" stroke="#111" stroke-width="2.2" />
<g clip-path="url(#llchip)">
<rect x="715" y="650" width="60" height="95" fill="#fff"/>
<g transform="matrix(1,0.083,0,1,0,-59.84)">
<rect x="715" y="665.3" width="60" height="24.7" fill="#000"/>
<line x1="726.9" y1="666.3" x2="726.9" y2="689.0" stroke="#fff" stroke-width="1.3" />
<line x1="735.6" y1="666.3" x2="735.6" y2="689.0" stroke="#fff" stroke-width="1.3" />
<line x1="746.8" y1="666.3" x2="746.8" y2="689.0" stroke="#fff" stroke-width="1.3" />
<line x1="764.9" y1="666.3" x2="764.9" y2="689.0" stroke="#fff" stroke-width="1.3" />
<line x1="721.0" y1="677.6" x2="770.0" y2="677.6" stroke="#fff" stroke-width="1.2" />
<line x1="723.0" y1="670.3" x2="725.5" y2="670.3" stroke="#fff" stroke-width="1.0" />
<line x1="723.0" y1="675.3" x2="725.5" y2="675.3" stroke="#fff" stroke-width="1.0" />
<line x1="723.0" y1="680.8" x2="725.5" y2="680.8" stroke="#fff" stroke-width="1.0" />
<line x1="723.0" y1="685.3" x2="725.5" y2="685.3" stroke="#fff" stroke-width="1.0" />
<rect x="730.4" y="668.3" width="1.6" height="4" fill="#fff"/>
<rect x="730.4" y="680.8" width="1.6" height="4" fill="#fff"/>
<rect x="740.0" y="668.3" width="1.6" height="4" fill="#fff"/>
<rect x="740.0" y="680.8" width="1.6" height="4" fill="#fff"/>
<line x1="751.0" y1="672.3" x2="754.0" y2="672.3" stroke="#fff" stroke-width="1.1" />
<line x1="756.0" y1="672.3" x2="759.0" y2="672.3" stroke="#fff" stroke-width="1.1" />
<line x1="760.5" y1="672.3" x2="763.5" y2="672.3" stroke="#fff" stroke-width="1.1" />
<line x1="751.0" y1="676.3" x2="754.0" y2="676.3" stroke="#fff" stroke-width="1.1" />
<line x1="756.0" y1="676.3" x2="759.0" y2="676.3" stroke="#fff" stroke-width="1.1" />
<line x1="760.5" y1="676.3" x2="763.5" y2="676.3" stroke="#fff" stroke-width="1.1" />
<line x1="751.0" y1="681.3" x2="754.0" y2="681.3" stroke="#fff" stroke-width="1.1" />
<line x1="756.0" y1="681.3" x2="759.0" y2="681.3" stroke="#fff" stroke-width="1.1" />
<line x1="760.5" y1="681.3" x2="763.5" y2="681.3" stroke="#fff" stroke-width="1.1" />
<line x1="751.0" y1="686.3" x2="754.0" y2="686.3" stroke="#fff" stroke-width="1.1" />
<line x1="756.0" y1="686.3" x2="759.0" y2="686.3" stroke="#fff" stroke-width="1.1" />
<line x1="760.5" y1="686.3" x2="763.5" y2="686.3" stroke="#fff" stroke-width="1.1" />
<rect x="715" y="703" width="60" height="24.5" fill="#000"/>
<line x1="726.9" y1="704.0" x2="726.9" y2="726.5" stroke="#fff" stroke-width="1.3" />
<line x1="735.6" y1="704.0" x2="735.6" y2="726.5" stroke="#fff" stroke-width="1.3" />
<line x1="746.8" y1="704.0" x2="746.8" y2="726.5" stroke="#fff" stroke-width="1.3" />
<line x1="764.9" y1="704.0" x2="764.9" y2="726.5" stroke="#fff" stroke-width="1.3" />
<line x1="721.0" y1="715.2" x2="770.0" y2="715.2" stroke="#fff" stroke-width="1.2" />
<line x1="723.0" y1="708.0" x2="725.5" y2="708.0" stroke="#fff" stroke-width="1.0" />
<line x1="723.0" y1="713.0" x2="725.5" y2="713.0" stroke="#fff" stroke-width="1.0" />
<line x1="723.0" y1="718.5" x2="725.5" y2="718.5" stroke="#fff" stroke-width="1.0" />
<line x1="723.0" y1="723.0" x2="725.5" y2="723.0" stroke="#fff" stroke-width="1.0" />
<rect x="730.4" y="706.0" width="1.6" height="4" fill="#fff"/>
<rect x="730.4" y="718.5" width="1.6" height="4" fill="#fff"/>
<rect x="740.0" y="706.0" width="1.6" height="4" fill="#fff"/>
<rect x="740.0" y="718.5" width="1.6" height="4" fill="#fff"/>
<line x1="751.0" y1="710.0" x2="754.0" y2="710.0" stroke="#fff" stroke-width="1.1" />
<line x1="756.0" y1="710.0" x2="759.0" y2="710.0" stroke="#fff" stroke-width="1.1" />
<line x1="760.5" y1="710.0" x2="763.5" y2="710.0" stroke="#fff" stroke-width="1.1" />
<line x1="751.0" y1="714.0" x2="754.0" y2="714.0" stroke="#fff" stroke-width="1.1" />
<line x1="756.0" y1="714.0" x2="759.0" y2="714.0" stroke="#fff" stroke-width="1.1" />
<line x1="760.5" y1="714.0" x2="763.5" y2="714.0" stroke="#fff" stroke-width="1.1" />
<line x1="751.0" y1="719.0" x2="754.0" y2="719.0" stroke="#fff" stroke-width="1.1" />
<line x1="756.0" y1="719.0" x2="759.0" y2="719.0" stroke="#fff" stroke-width="1.1" />
<line x1="760.5" y1="719.0" x2="763.5" y2="719.0" stroke="#fff" stroke-width="1.1" />
<line x1="751.0" y1="724.0" x2="754.0" y2="724.0" stroke="#fff" stroke-width="1.1" />
<line x1="756.0" y1="724.0" x2="759.0" y2="724.0" stroke="#fff" stroke-width="1.1" />
<line x1="760.5" y1="724.0" x2="763.5" y2="724.0" stroke="#fff" stroke-width="1.1" />
<circle cx="730.6" cy="661.5" r="1.5" fill="#111"/>
<circle cx="740.9" cy="661.5" r="1.5" fill="#111"/>
<circle cx="751.5" cy="661.5" r="1.5" fill="#111"/>
<circle cx="762.4" cy="661.5" r="1.5" fill="#111"/>
<circle cx="730.6" cy="696.5" r="1.5" fill="#111"/>
<circle cx="740.9" cy="696.5" r="1.5" fill="#111"/>
<circle cx="751.5" cy="696.5" r="1.5" fill="#111"/>
<circle cx="762.4" cy="696.5" r="1.5" fill="#111"/>
<circle cx="730.6" cy="733.5" r="1.5" fill="#111"/>
<circle cx="740.9" cy="733.5" r="1.5" fill="#111"/>
<circle cx="751.5" cy="733.5" r="1.5" fill="#111"/>
<circle cx="762.4" cy="733.5" r="1.5" fill="#111"/>
</g>
</g>
<polygon points="721.2,654.7 769.3,658.7 769.3,741.2 721.2,735.3" fill="none" stroke="#222" stroke-width="1.2" stroke-dasharray="3,1.5"/>
<line x1="746.0" y1="633.5" x2="746.0" y2="760.6" stroke="#111" stroke-width="1.6" />
<line x1="576.1" y1="741.9" x2="697.6" y2="741.9" stroke="#555" stroke-width="1.1" />
<line x1="581.1" y1="719.7" x2="715.4" y2="735.4" stroke="#222" stroke-width="1.1" />
<line x1="589.8" y1="687.3" x2="582.4" y2="719.7" stroke="#222" stroke-width="1.1" />
<polygon points="582.4,719.7 582.9,702.4 589.1,703.8" fill="#000" stroke="#000" stroke-width="0.6" stroke-linejoin="round" />
<line x1="584.9" y1="775.9" x2="582.4" y2="741.9" stroke="#222" stroke-width="1.1" />
<polygon points="582.4,741.9 586.6,758.7 580.2,759.1" fill="#000" stroke="#000" stroke-width="0.6" stroke-linejoin="round" />
<text x="579.40" y="756.63" font-size="22" text-anchor="start" fill="#000" textLength="55.50" lengthAdjust="spacingAndGlyphs" transform="rotate(-90 579.40 756.63)" >6° ±1°</text>
<line x1="542.4" y1="777.1" x2="542.4" y2="610.0" stroke="#333" stroke-width="1.3" />
<polygon points="542.4,597.0 545.9,616.0 538.9,616.0" fill="#000" stroke="#000" stroke-width="0.6" stroke-linejoin="round" />
<text x="538.70" y="780.64" font-size="24" text-anchor="start" fill="#000" textLength="165.08" lengthAdjust="spacingAndGlyphs" transform="rotate(-90 538.70 780.64)" >Light Direction</text>
<text x="727.58" y="591.80" font-size="24.5" text-anchor="start" fill="#000" textLength="35.10" lengthAdjust="spacingAndGlyphs" >L-L</text>
<line x1="717.5" y1="599.2" x2="774.1" y2="599.2" stroke="#777" stroke-width="1.4" />
<text x="717.90" y="629.10" font-size="24.5" text-anchor="start" fill="#000" textLength="55.52" lengthAdjust="spacingAndGlyphs" >10 : 1</text>
<line x1="855.3" y1="658.6" x2="884.4" y2="631.0" stroke="#111" stroke-width="1.1" />
<polygon points="855.3,658.6 866.5,643.5 871.0,648.3" fill="#000" stroke="#000" stroke-width="0.6" stroke-linejoin="round" />
<line x1="884.4" y1="631.0" x2="944.1" y2="631.0" stroke="#777" stroke-width="1.4" />
<text x="884.18" y="630.20" font-size="22" text-anchor="start" fill="#000" textLength="59.25" lengthAdjust="spacingAndGlyphs" >2-C0.5</text></svg>
</body></html>
